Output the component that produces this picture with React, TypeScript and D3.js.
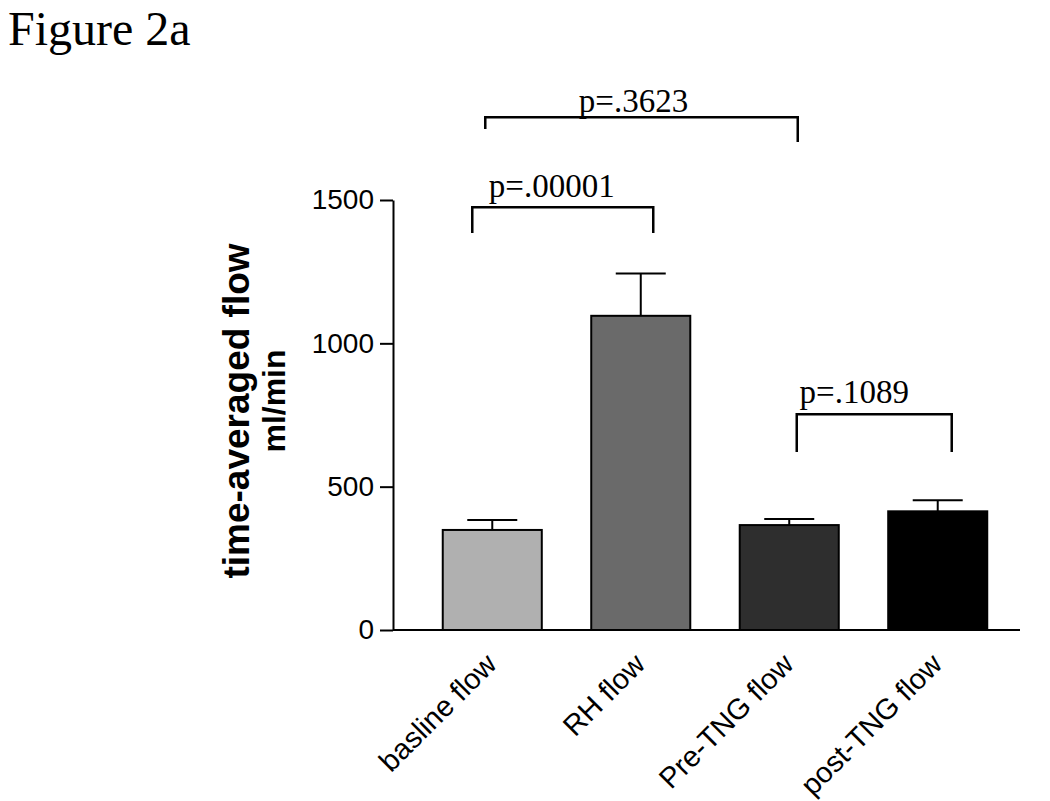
import React, { useEffect, useRef } from 'react';
import * as d3 from 'd3';

// chart values
const categories = ['basline flow', 'RH flow', 'Pre-TNG flow', 'post-TNG flow'];
const means = [349, 1096, 366, 414];
const sems = [35, 148, 21, 39];
const yTicks = [0, 500, 1000, 1500];

// significance brackets (indices into categories, heights in ml/min)
const bracketLabels = ['p=.3623', 'p=.00001', 'p=.1089'];
const bracketFrom = [0, 0, 2];
const bracketTo = [2, 1, 3];
const bracketTop = [1789, 1475, 753];
const bracketLeftLeg = [1748, 1385, 621];
const bracketRightLeg = [1702, 1385, 621];

const width = 1050;
const height = 801;
const fills = ['#b0b0b0', '#6a6a6a', '#2e2e2e', '#000000'];
// hand-placed offsets of the bracket ends / labels (px), as in the original figure
const legOffsets = [[-7, 8.5], [-20, 12.5], [7.5, 14]];
const labelDx = [-8, -11, -20];
const labelDy = [-5, -10, -11];

const sans = "'Liberation Sans', Arial, Helvetica, sans-serif";
const serif = "'Liberation Serif', 'Times New Roman', Times, serif";

const axisX = 393;
const axisEnd = 1020;

const x = d3
  .scaleBand<string>()
  .domain(categories)
  .range([418, 1012])
  .paddingInner(0.333)
  .paddingOuter(0.1667);

const y = d3.scaleLinear().domain([0, 1500]).range([630, 200]);

export default function App() {
  const yAxisRef = useRef<SVGGElement>(null);

  useEffect(() => {
    const axis = d3
      .axisLeft(y)
      .tickValues(yTicks)
      .tickSize(13)
      .tickSizeOuter(0)
      .tickPadding(6)
      .tickFormat((d) => String(d));
    const g = d3.select(yAxisRef.current);
    g.call(axis as any);
    g.select('.domain').attr('stroke-width', 2).attr('stroke', '#000');
    g.selectAll('.tick line').attr('stroke-width', 2).attr('stroke', '#000');
    g.selectAll('.tick text')
      .attr('font-family', sans)
      .attr('font-size', 28)
      .attr('fill', '#000');
  }, []);

  const cx = (i: number) => (x(categories[i]) as number) + x.bandwidth() / 2;

  return (
    <svg
      width={width}
      height={height}
      style={{ position: 'absolute', left: 0, top: 0, background: '#fff' }}
    >
      <text x={8} y={45} fontFamily={serif} fontSize={48} fill="#000">
        Figure 2a
      </text>

      {/* bars */}
      {means.map((m, i) => (
        <rect
          key={categories[i]}
          x={x(categories[i])}
          y={y(m)}
          width={x.bandwidth()}
          height={y(0) - y(m)}
          fill={fills[i]}
          stroke="#000"
          strokeWidth={2}
        />
      ))}

      {/* error bars (upper only) */}
      {means.map((m, i) => (
        <g key={'err' + i} stroke="#000" strokeWidth={2}>
          <line x1={cx(i)} x2={cx(i)} y1={y(m)} y2={y(m + sems[i])} />
          <line x1={cx(i) - 25} x2={cx(i) + 25} y1={y(m + sems[i])} y2={y(m + sems[i])} />
        </g>
      ))}

      {/* axes */}
      <line x1={axisX} x2={axisEnd} y1={y(0)} y2={y(0)} stroke="#000" strokeWidth={2} />
      <g ref={yAxisRef} transform={`translate(${axisX},0)`} />

      {/* category labels */}
      {categories.map((c, i) => (
        <text
          key={'lab' + c}
          transform={`translate(${cx(i) + 6},${666}) rotate(-45)`}
          textAnchor="end"
          fontFamily={sans}
          fontSize={29}
          fill="#000"
        >
          {c}
        </text>
      ))}

      {/* y axis title */}
      <text
        transform={`translate(249,411) rotate(-90)`}
        textAnchor="middle"
        fontFamily={sans}
        fontWeight="bold"
        fontSize={37}
        fill="#000"
      >
        time-averaged flow
      </text>
      <text
        transform={`translate(285,401) rotate(-90)`}
        textAnchor="middle"
        fontFamily={sans}
        fontWeight="bold"
        fontSize={32}
        fill="#000"
      >
        ml/min
      </text>

      {/* significance brackets */}
      {bracketLabels.map((lab, k) => {
        const x1 = cx(bracketFrom[k]) + legOffsets[k][0];
        const x2 = cx(bracketTo[k]) + legOffsets[k][1];
        const yt = y(bracketTop[k]);
        return (
          <g key={'br' + k}>
            <path
              d={`M${x1},${y(bracketLeftLeg[k])}V${yt}H${x2}V${y(bracketRightLeg[k])}`}
              fill="none"
              stroke="#000"
              strokeWidth={2.5}
            />
            <text
              x={(x1 + x2) / 2 + labelDx[k]}
              y={yt + labelDy[k]}
              textAnchor="middle"
              fontFamily={serif}
              fontSize={33}
              fill="#000"
            >
              {lab}
            </text>
          </g>
        );
      })}
    </svg>
  );
}
